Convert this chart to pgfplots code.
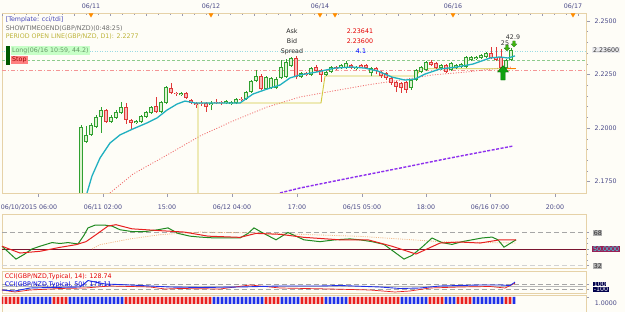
\documentclass[border=0pt]{standalone}
\usepackage{pgfplots}
\pgfplotsset{compat=1.18}
\usepackage{pgfplotstable}
\usepackage{fontspec}
\setmainfont{DejaVu Sans}
\newcommand{\sm}{\fontsize{6.3}{7.5}\selectfont}
\definecolor{bg}{HTML}{FEFDF7}
\definecolor{frame}{HTML}{E6D2A8}
\definecolor{tickc}{HTML}{9A9AB0}
\definecolor{txtblue}{HTML}{4A4A88}
\definecolor{bullc}{HTML}{30A030}
\definecolor{bullf}{HTML}{DDF3D0}
\definecolor{bearc}{HTML}{E03838}
\definecolor{bearf}{HTML}{F6B8B8}
\definecolor{maC}{HTML}{20B0C0}
\definecolor{ma2}{HTML}{F06868}
\definecolor{purp}{HTML}{8E30EE}
\definecolor{yel}{HTML}{D2C840}
\definecolor{tdigreen}{HTML}{208A20}
\definecolor{tdired}{HTML}{E82020}
\definecolor{tdiorange}{HTML}{F2B888}
\definecolor{maroon50}{HTML}{7A1530}
\definecolor{lab50}{HTML}{9A1F55}
\definecolor{cyantxt}{HTML}{30F0FF}
\definecolor{barred}{HTML}{E82020}
\definecolor{barblue}{HTML}{2030E8}
\definecolor{arrowg}{HTML}{10A010}

\pgfdeclareplotmark{bigup}{%
 \pgfpathmoveto{\pgfpoint{0pt}{7.5pt}}\pgfpathlineto{\pgfpoint{5.5pt}{1pt}}%
 \pgfpathlineto{\pgfpoint{2.2pt}{1pt}}\pgfpathlineto{\pgfpoint{2.2pt}{-7pt}}%
 \pgfpathlineto{\pgfpoint{-2.2pt}{-7pt}}\pgfpathlineto{\pgfpoint{-2.2pt}{1pt}}%
 \pgfpathlineto{\pgfpoint{-5.5pt}{1pt}}\pgfpathclose\pgfusepathqfillstroke}
\pgfdeclareplotmark{smalldown}{%
 \pgfpathmoveto{\pgfpoint{0pt}{-3pt}}\pgfpathlineto{\pgfpoint{3pt}{0pt}}%
 \pgfpathlineto{\pgfpoint{1.2pt}{0pt}}\pgfpathlineto{\pgfpoint{1.2pt}{3pt}}%
 \pgfpathlineto{\pgfpoint{-1.2pt}{3pt}}\pgfpathlineto{\pgfpoint{-1.2pt}{0pt}}%
 \pgfpathlineto{\pgfpoint{-3pt}{0pt}}\pgfpathclose\pgfusepathqfillstroke}

\pgfplotstableread{
x o h l c
81 2.1664 2.2014 2.1664 2.2005
86 2.1935 2.2010 2.1930 2.1968
91 2.1968 2.2024 2.1963 2.2014
96 2.2005 2.2061 2.2000 2.2052
101 2.2052 2.2098 2.1977 2.2084
111 2.2028 2.2061 2.2024 2.2052
116 2.2047 2.2084 2.2042 2.2075
121 2.2070 2.2122 2.2066 2.2098
136 2.2024 2.2038 2.2019 2.2033
141 2.2028 2.2061 2.2024 2.2056
146 2.2052 2.2080 2.2047 2.2075
151 2.2070 2.2103 2.2066 2.2098
161 2.2075 2.2126 2.2070 2.2122
166 2.2117 2.2196 2.2112 2.2192
181 2.2154 2.2168 2.2150 2.2164
211 2.2108 2.2126 2.2084 2.2117
226 2.2117 2.2131 2.2112 2.2126
231 2.2112 2.2126 2.2108 2.2122
236 2.2117 2.2140 2.2112 2.2136
246 2.2136 2.2173 2.2131 2.2168
251 2.2168 2.2224 2.2164 2.2220
256 2.2220 2.2271 2.2215 2.2243
266 2.2182 2.2243 2.2178 2.2238
271 2.2187 2.2238 2.2182 2.2234
276 2.2187 2.2238 2.2182 2.2229
281 2.2234 2.2318 2.2229 2.2285
286 2.2238 2.2322 2.2234 2.2309
291 2.2290 2.2332 2.2285 2.2327
301 2.2238 2.2262 2.2234 2.2257
311 2.2248 2.2285 2.2243 2.2280
326 2.2248 2.2266 2.2243 2.2262
331 2.2262 2.2290 2.2257 2.2285
341 2.2280 2.2299 2.2276 2.2294
346 2.2280 2.2313 2.2276 2.2304
356 2.2276 2.2290 2.2271 2.2285
371 2.2257 2.2285 2.2243 2.2280
411 2.2187 2.2229 2.2178 2.2224
416 2.2224 2.2276 2.2220 2.2271
421 2.2262 2.2290 2.2257 2.2285
426 2.2271 2.2313 2.2266 2.2309
441 2.2280 2.2299 2.2271 2.2294
451 2.2271 2.2309 2.2266 2.2304
456 2.2280 2.2299 2.2276 2.2294
461 2.2285 2.2304 2.2280 2.2299
466 2.2285 2.2337 2.2280 2.2332
471 2.2318 2.2337 2.2313 2.2332
476 2.2322 2.2337 2.2318 2.2332
481 2.2327 2.2346 2.2322 2.2341
486 2.2332 2.2355 2.2327 2.2351
506 2.2280 2.2322 2.2276 2.2318
511 2.2318 2.2374 2.2313 2.2365
}\bull

\pgfplotstableread{
x o h l c
106 2.2084 2.2089 2.2024 2.2028
126 2.2098 2.2117 2.2019 2.2038
131 2.2038 2.2042 2.1991 2.2024
156 2.2103 2.2145 2.2070 2.2075
171 2.2187 2.2210 2.2159 2.2164
176 2.2164 2.2168 2.2150 2.2159
186 2.2164 2.2168 2.2136 2.2140
191 2.2131 2.2136 2.2112 2.2117
196 2.2117 2.2122 2.2094 2.2108
201 2.2117 2.2126 2.2103 2.2112
206 2.2117 2.2122 2.2075 2.2098
216 2.2122 2.2136 2.2112 2.2117
221 2.2122 2.2126 2.2108 2.2117
241 2.2136 2.2145 2.2126 2.2131
261 2.2243 2.2252 2.2178 2.2182
296 2.2327 2.2337 2.2229 2.2238
306 2.2257 2.2262 2.2243 2.2248
316 2.2285 2.2294 2.2262 2.2266
321 2.2271 2.2276 2.2215 2.2248
336 2.2285 2.2290 2.2271 2.2276
351 2.2294 2.2299 2.2276 2.2280
361 2.2294 2.2299 2.2280 2.2285
366 2.2294 2.2299 2.2276 2.2280
376 2.2280 2.2285 2.2252 2.2266
381 2.2262 2.2266 2.2234 2.2243
386 2.2257 2.2262 2.2224 2.2234
391 2.2234 2.2238 2.2201 2.2210
396 2.2215 2.2220 2.2168 2.2192
401 2.2210 2.2215 2.2164 2.2187
406 2.2215 2.2220 2.2164 2.2178
431 2.2309 2.2318 2.2290 2.2294
436 2.2304 2.2309 2.2276 2.2280
446 2.2294 2.2299 2.2257 2.2262
491 2.2351 2.2379 2.2322 2.2327
496 2.2332 2.2379 2.2313 2.2318
501 2.2332 2.2369 2.2271 2.2280
}\bear

\begin{document}
\begin{tikzpicture}
\path[use as bounding box, fill=bg] (0pt,0pt) rectangle (625pt,312pt);

\pgfplotsset{panel/.style={scale only axis, width=584pt, xmin=2, xmax=586,
  axis line style={draw=frame}, tick style={draw=tickc, thin},
  tick label style={font=\sm, text=txtblue},
  /pgf/number format/assume math mode=true},
  candle/.style={draw=none, no markers, forget plot,
  error bars/.cd, y dir=plus, y explicit, error mark=none}}

% ---------------- main price panel ----------------
\begin{axis}[panel, at={(2pt,119pt)}, anchor=south west, height=180pt,
  ymin=2.16967, ymax=2.25373,
  xtick pos=bottom, tick align=outside, major tick length=4pt, minor tick length=2pt,
  xtick={38,103,167,232,297,362,426,490,555},
  xticklabels={{},06/11 02:00,15:00,06/12 04:00,17:00,06/15 05:00,18:00,06/16 07:00,20:00},
  minor x tick num=5,
  xticklabel style={yshift=-4pt},
  ytick pos=right, yticklabel pos=right,
  ytick={2.175,2.2,2.225,2.25}, minor y tick num=4,
  yticklabel style={/pgf/number format/fixed, /pgf/number format/fixed zerofill,
     /pgf/number format/precision=4, xshift=1pt}]
% level lines
\addplot[draw=ma2!70, line width=0.7pt, dash pattern=on 4pt off 2pt on 1pt off 2pt] coordinates {(2,2.2271)(586,2.2271)};
\addplot[draw=bullc!55, line width=0.6pt, dash pattern=on 3pt off 2pt] coordinates {(2,2.2318)(586,2.2318)};
\addplot[draw=maC!45, line width=0.8pt, dash pattern=on 1pt off 1.5pt] coordinates {(2,2.2360)(586,2.2360)};
% long-term MA
\addplot[draw=purp, line width=1.4pt, dash pattern=on 3pt off 1.5pt] coordinates {
(280,2.1697)(300,2.1720)(350,2.1767)(400,2.1813)(450,2.1860)(513,2.1916)};
% slow MA (dotted)
\addplot[draw=ma2, line width=0.8pt, dash pattern=on 1pt off 1.6pt] coordinates {
(110,2.1697)(133,2.1785)(167,2.1874)(200,2.1963)(233,2.2033)(267,2.2098)(300,2.2145)
(333,2.2173)(367,2.2201)(400,2.2224)(433,2.2248)(467,2.2262)(500,2.2280)(512,2.2285)};
% period open line
\addplot[draw=yel, line width=0.9pt] coordinates {
(198,2.1650)(198,2.2117)(321,2.2117)(325,2.2243)(416,2.2243)(421,2.2277)(515,2.2277)};
\addplot[draw=orange, line width=0.9pt] coordinates {(500,2.2280)(516,2.2280)};
% candles: wicks
\addplot[candle, error bar style={draw=bullc, line width=0.7pt}]
  table[x=x, y=l, y error plus expr={\thisrow{h}-\thisrow{l}}] {\bull};
\addplot[candle, error bar style={draw=bearc, line width=0.7pt}]
  table[x=x, y=l, y error plus expr={\thisrow{h}-\thisrow{l}}] {\bear};
% candles: bodies
\addplot[candle, error bar style={draw=bullc, line width=3.6pt, line cap=butt}]
  table[x=x, y=o, y error plus expr={\thisrow{c}-\thisrow{o}}] {\bull};
\addplot[candle, error bar style={draw=bullf, line width=2.0pt, line cap=butt, shorten <=0.8pt, shorten >=0.8pt}]
  table[x=x, y=o, y error plus expr={\thisrow{c}-\thisrow{o}}] {\bull};
\addplot[candle, error bar style={draw=bearc, line width=3.6pt, line cap=butt}]
  table[x=x, y=c, y error plus expr={\thisrow{o}-\thisrow{c}}] {\bear};
\addplot[candle, error bar style={draw=bearf, line width=2.0pt, line cap=butt, shorten <=0.8pt, shorten >=0.8pt}]
  table[x=x, y=c, y error plus expr={\thisrow{o}-\thisrow{c}}] {\bear};
% fast MA
\addplot[draw=maC, line width=1.3pt] coordinates {
(87,2.1697)(92,2.1776)(100,2.1860)(110,2.1930)(120,2.1968)(133,2.1996)(147,2.2024)
(157,2.2047)(167,2.2084)(177,2.2112)(185,2.2126)(195,2.2117)(240,2.2117)(253,2.2159)
(267,2.2182)(280,2.2201)(290,2.2234)(300,2.2248)(317,2.2262)(335,2.2280)(352,2.2285)
(365,2.2280)(378,2.2266)(392,2.2238)(405,2.2224)(415,2.2229)(425,2.2252)(440,2.2276)
(457,2.2285)(473,2.2299)(490,2.2327)(500,2.2332)(508,2.2327)(515,2.2337)};
% signal arrows
\addplot[only marks, mark=bigup, mark options={fill=arrowg, draw=green!40!black, line width=0.3pt}] coordinates {(503,2.2257)};
\addplot[only marks, mark=smalldown, mark options={fill=arrowg!80!yellow, draw=green!40!black, line width=0.2pt}] coordinates {(507,2.2374)(514,2.2393)};
\end{axis}

% ---------------- top ruler ----------------
\begin{axis}[scale only axis, at={(2pt,119pt)}, anchor=south west, width=584pt, height=180pt,
  xmin=2, xmax=586, ymin=0, ymax=1, hide y axis, axis x line*=top, clip=false,
  axis line style={draw=frame}, tick style={draw=tickc, thin},
  xtick={2,38,...,578}, xticklabels={}, minor x tick num=2, tick align=inside,
  major tick length=3.5pt, minor tick length=1.8pt,
  extra x ticks={91,211,320,453,573},
  extra x tick labels={06/11,06/12,06/14,06/16,06/17},
  extra x tick style={major tick length=0pt, tick label style={font=\sm, text=txtblue}}]
\addplot[only marks, mark=triangle*, mark size=2.3pt,
  mark options={rotate=180, fill=orange!90!yellow, draw=orange!90!yellow}]
  coordinates {(91,0.99)(211,0.99)(320,0.99)(335,0.99)(453,0.99)(573,0.99)};
\end{axis}

% ---------------- TDI panel ----------------
\begin{axis}[panel, at={(2pt,44pt)}, anchor=south west, height=54pt,
  ymin=29.28, ymax=88.17, xtick=\empty, ytick pos=right,
  ytick={32,50,68}, yticklabels={}, minor y tick num=2, tick align=outside,
  major tick length=3pt, minor tick length=2pt]
\addplot[draw=gray!70, line width=0.8pt, dash pattern=on 5pt off 3pt] coordinates {(2,68)(586,68)};
\addplot[draw=gray!35, line width=1.2pt, dash pattern=on 5pt off 3pt] coordinates {(2,32)(586,32)};
\addplot[draw=maroon50, line width=0.9pt] coordinates {(2,50)(586,50)};
\addplot[draw=tdiorange, line width=0.8pt, dash pattern=on 1pt off 1.2pt] coordinates {
(92,50)(100,54.7)(130,61)(160,65.6)(200,68.5)(256,67.4)(300,66)(360,63.8)(440,58)(516,56.5)};
\addplot[draw=tdigreen, line width=1pt] coordinates {
(2,53)(8,47)(16,39)(24,44)(32,50)(40,53)(52,57)(60,56)(68,57)(78,55.5)(84,65)(88,73)
(95,76)(105,76)(112,75)(120,71)(132,69)(145,69)(158,71)(168,73)(178,67)(190,64)
(200,63)(215,62)(230,62)(240,62)(248,67)(254,73)(262,68)(276,60)(288,68)(296,64)
(304,60)(320,58)(335,60)(350,61)(360,60)(372,58)(384,55)(394,47)(404,39)(412,43)
(422,52)(432,62)(442,57)(452,55)(462,58)(472,60)(482,62)(492,63)(498,60)(504,52)
(510,56)(516,60)};
\addplot[draw=tdired, line width=1pt] coordinates {
(2,53)(20,45.6)(40,47.5)(60,51.8)(76,54.7)(86,58)(96,65.6)(108,75)(116,76.5)(132,72)
(160,70)(184,68.5)(208,64)(240,62.7)(256,67)(280,66)(304,62.7)(340,60)(368,60)
(392,53)(416,44.5)(440,56.5)(460,57.6)(480,56.5)(500,60)(516,60)};
\end{axis}

% ---------------- CCI panel ----------------
\begin{axis}[panel, at={(2pt,19pt)}, anchor=south west, height=22pt,
  ymin=-260, ymax=620, xtick=\empty, ytick pos=right,
  ytick={-100,100}, yticklabels={}, tick align=outside, major tick length=3pt]
\addplot[draw=gray!70, line width=0.6pt, dash pattern=on 5pt off 3pt] coordinates {(2,100)(586,100)};
\addplot[draw=gray!70, line width=0.6pt, dash pattern=on 5pt off 3pt] coordinates {(2,-100)(586,-100)};
\addplot[draw=gray!55, line width=0.5pt] coordinates {(2,0)(586,0)};
\addplot[draw=tdired, line width=0.7pt] coordinates {
(2,-140)(15,-220)(30,-140)(60,-80)(85,-60)(110,20)(150,-20)(165,-100)(180,-80)(220,-100)
(250,60)(260,20)(280,-60)(330,-100)(370,-140)(395,-220)(410,-180)(430,-60)(460,-20)
(490,0)(505,-60)(515,129)};
\addplot[draw=barblue, line width=0.9pt] coordinates {
(2,-140)(15,-180)(30,-60)(50,-40)(80,-20)(84,100)(88,240)(95,180)(105,100)(130,60)
(170,-20)(200,-40)(240,-20)(280,20)(320,20)(340,40)(380,-20)(400,-80)(420,-60)(440,20)
(460,40)(480,60)(500,60)(510,40)(515,175)};
\end{axis}

% ---------------- signal bar panel ----------------
\begin{axis}[panel, at={(2pt,0pt)}, anchor=south west, height=17pt,
  ymin=-1.143, ymax=1.286, xtick=\empty, ytick pos=right,
  ytick={1}, yticklabels={}, tick align=outside, major tick length=3pt]
\addplot[ybar, bar width=2.6pt, bar shift=0pt, fill=barred, draw=none] coordinates {
(2,1)(6,1)(10,1)(14,1)(18,1)(54,1)(58,1)(62,1)(66,1)
(126,1)(130,1)(134,1)(138,1)(142,1)(146,1)(150,1)(154,1)(158,1)(162,1)(166,1)
(170,1)(174,1)(178,1)(182,1)(186,1)(190,1)(194,1)(198,1)(202,1)(206,1)(210,1)
(266,1)(270,1)(274,1)(278,1)(302,1)(306,1)(310,1)(314,1)(318,1)(322,1)
(350,1)(354,1)(358,1)(362,1)(366,1)(370,1)(374,1)(378,1)(382,1)(386,1)(390,1)(394,1)(398,1)
(430,1)(434,1)(438,1)(442,1)(458,1)(462,1)(466,1)(470,1)(506,1)(510,1)};
\addplot[ybar, bar width=2.6pt, bar shift=0pt, fill=barblue, draw=none] coordinates {
(22,1)(26,1)(30,1)(34,1)(38,1)(42,1)(46,1)(50,1)
(70,1)(74,1)(78,1)(82,1)(86,1)(90,1)(94,1)(98,1)(102,1)(106,1)(110,1)(114,1)(118,1)(122,1)
(214,1)(218,1)(222,1)(226,1)(230,1)(234,1)(238,1)(242,1)(246,1)(250,1)(254,1)(258,1)(262,1)
(282,1)(286,1)(290,1)(294,1)(298,1)(326,1)(330,1)(334,1)(338,1)(342,1)(346,1)
(402,1)(406,1)(410,1)(414,1)(418,1)(422,1)(426,1)(446,1)(450,1)(454,1)
(474,1)(478,1)(482,1)(486,1)(490,1)(494,1)(498,1)(502,1)(514,1)};
\end{axis}

% ---------------- annotations (text) ----------------
\begin{scope}[x=1pt, y=1pt, every node/.style={font=\sm, inner sep=0.6pt}]
\node[anchor=west, text=txtblue] at (0,104.5) {06/10/2015 06:00};
\node[anchor=west, text=blue!45!gray] at (5,292) {[Template: cci/tdi]};
\node[anchor=west, text=gray!85!black] at (5,283.5) {SHOWTIMEOEND(GBP/NZD)(0:48:25)};
\node[anchor=west, text=yel!90!black] at (5,275) {PERIOD OPEN LINE(GBP/NZD, D1): 2.2277};
\fill[green!35!black] (6,247) rectangle (10,266);
\node[anchor=west, fill=green!22, text=gray!80!green, minimum height=8.5pt, inner xsep=1pt] at (11,261.5) {Long(06/16 10:59, 44.2)};
\node[anchor=west, fill=red!50, text=red!60!black, minimum height=8pt, inner xsep=1pt] at (11,252) {Stop};
\node[text=gray!30!black] at (292,280.5) {Ask};
\node[text=gray!30!black] at (292,270.5) {Bid};
\node[text=gray!30!black] at (292,260.5) {Spread};
\node[text=red!90!black] at (360,280.5) {2.23641};
\node[text=red!90!black] at (360,270.5) {2.23600};
\node[text=blue] at (361,260.5) {4.1};
\node[text=black!80] at (513,275) {42.9};
\node[text=black!80] at (505,269) {25};
\node[anchor=west, fill=blue!8!gray!15, text=black!80, inner xsep=1pt] at (592,262) {2.23600};
\node[anchor=west, fill=gray!60, text=black!80] at (593,79) {68};
\node[anchor=west, fill=lab50, text=cyantxt, inner xsep=1pt, inner ysep=1pt] at (592,63) {50.0000};
\node[anchor=west, fill=gray!60, text=black!80] at (593,46) {32};
\node[anchor=west, fill=blue!30!black, text=white, inner ysep=0pt] at (593,28) {100};
\node[anchor=west, fill=blue!30!black, text=white, inner ysep=0pt] at (593,22.5) {-100};
\node[anchor=west, text=txtblue] at (594,9) {1.0000};
\node[anchor=west, text=red!90!black] at (4,35) {CCI(GBP/NZD,Typical, 14): 128.74};
\node[anchor=west, text=blue!90!black] at (4,27) {CCI(GBP/NZD,Typical, 50): 175.11};
\end{scope}
\end{tikzpicture}
\end{document}
